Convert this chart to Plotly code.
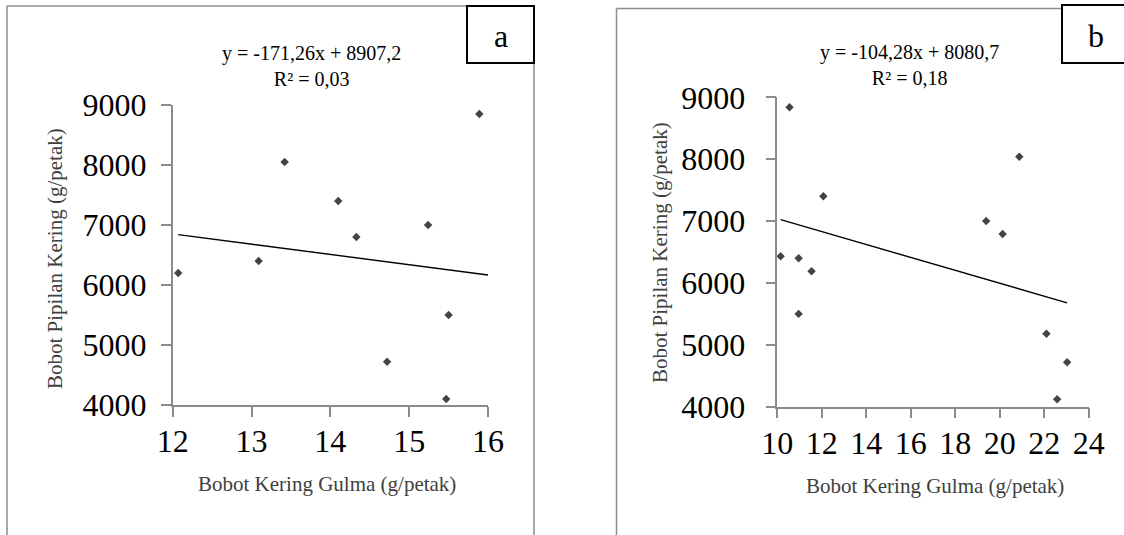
import plotly.graph_objects as go

W, H = 1124, 535

# ---- data ----
a_weed = [12.07, 13.09, 13.42, 14.10, 14.33, 15.24, 14.72, 15.50, 15.47, 15.89]
a_yield = [6200, 6400, 8050, 7400, 6800, 7000, 4720, 5500, 4100, 8850]
a_slope, a_intercept = -171.26, 8907.2
a_trend_x = [12.07, 16.0]
a_eq = "y = -171,26x + 8907,2<br>R² = 0,03"

b_weed = [10.15, 10.55, 10.96, 10.96, 11.54, 12.07, 19.39, 20.13, 20.88, 22.10, 22.58, 23.03]
b_yield = [6430, 8840, 6400, 5500, 6190, 7400, 7000, 6790, 8040, 5180, 4120, 4720]
b_slope, b_intercept = -104.28, 8080.7
b_trend_x = [10.15, 23.03]
b_eq = "y = -104,28x + 8080,7<br>R² = 0,18"

y_ticks = [4000, 5000, 6000, 7000, 8000, 9000]
a_x_ticks = [12, 13, 14, 15, 16]
b_x_ticks = [10, 12, 14, 16, 18, 20, 22, 24]
x_title = "Bobot Kering Gulma (g/petak)"
y_title = "Bobot Pipilan Kering (g/petak)"
panel_labels = ["a", "b"]


def px(x):
    return x / W


def py(y):
    return 1 - y / H


FONT = "Liberation Serif"
AX_COL = "#8a8a8a"
MK_COL = "#444444"

fig = go.Figure()

fig.add_trace(go.Scatter(x=a_weed, y=a_yield, mode="markers", xaxis="x", yaxis="y",
                         marker=dict(symbol="diamond", size=6.5, color=MK_COL),
                         cliponaxis=False, showlegend=False))
fig.add_trace(go.Scatter(x=a_trend_x, y=[a_slope * v + a_intercept for v in a_trend_x],
                         mode="lines", xaxis="x", yaxis="y",
                         line=dict(color="black", width=1.4), showlegend=False))
fig.add_trace(go.Scatter(x=b_weed, y=b_yield, mode="markers", xaxis="x2", yaxis="y2",
                         marker=dict(symbol="diamond", size=6.5, color=MK_COL),
                         cliponaxis=False, showlegend=False))
fig.add_trace(go.Scatter(x=b_trend_x, y=[b_slope * v + b_intercept for v in b_trend_x],
                         mode="lines", xaxis="x2", yaxis="y2",
                         line=dict(color="black", width=1.4), showlegend=False))

common_ax = dict(showgrid=False, zeroline=False, showline=True, linecolor=AX_COL,
                 linewidth=1.5, ticks="outside", ticklen=10, tickcolor=AX_COL,
                 tickwidth=1.5, tickfont=dict(family=FONT, size=32, color="black"),
                 automargin=False)

fig.update_layout(
    template="none",
    width=W, height=H, margin=dict(l=0, r=0, t=0, b=0, pad=0, autoexpand=False),
    paper_bgcolor="white", plot_bgcolor="white", showlegend=False,
    xaxis=dict(domain=[px(172.7), px(488.0)], range=[12, 16], tickvals=a_x_ticks,
               anchor="y", ticklabelstandoff=-3, **common_ax),
    yaxis=dict(domain=[py(405), py(105)], range=[4000, 9000], tickvals=y_ticks,
               anchor="x", ticklabelstandoff=8, **common_ax),
    xaxis2=dict(domain=[px(777.3), px(1088.7)], range=[10, 24], tickvals=b_x_ticks,
                anchor="y2", ticklabelstandoff=-3, **common_ax),
    yaxis2=dict(domain=[py(406.7), py(97.3)], range=[4000, 9000], tickvals=y_ticks,
                anchor="x2", ticklabelstandoff=14, **common_ax),
)

ann = []
title_font = dict(family=FONT, size=21, color="#404040")
eq_font = dict(family=FONT, size=20, color="black")
# axis titles
ann.append(dict(text=x_title, x=px(327), y=py(484), xref="paper", yref="paper",
                showarrow=False, font=title_font, xanchor="center", yanchor="middle"))
ann.append(dict(text=y_title, x=px(55), y=py(259), xref="paper", yref="paper",
                showarrow=False, font=title_font, textangle=-90,
                xanchor="center", yanchor="middle"))
ann.append(dict(text=x_title, x=px(935), y=py(486), xref="paper", yref="paper",
                showarrow=False, font=title_font, xanchor="center", yanchor="middle"))
ann.append(dict(text=y_title, x=px(660), y=py(253), xref="paper", yref="paper",
                showarrow=False, font=title_font, textangle=-90,
                xanchor="center", yanchor="middle"))
# equations
ann.append(dict(text=a_eq, x=px(311), y=py(66), xref="paper", yref="paper",
                showarrow=False, font=eq_font, xanchor="center", yanchor="middle"))
ann.append(dict(text=b_eq, x=px(909), y=py(65), xref="paper", yref="paper",
                showarrow=False, font=eq_font, xanchor="center", yanchor="middle"))
# panel letters
ann.append(dict(text=panel_labels[0], x=px(501), y=py(36), xref="paper", yref="paper",
                showarrow=False, font=dict(family=FONT, size=32, color="black"),
                xanchor="center", yanchor="middle"))
ann.append(dict(text=panel_labels[1], x=px(1096), y=py(36), xref="paper", yref="paper",
                showarrow=False, font=dict(family=FONT, size=32, color="black"),
                xanchor="center", yanchor="middle"))
fig.update_layout(annotations=ann)

shapes = []
frame_line = dict(color="#8c8c8c", width=1.5)
# panel a outer frame
shapes.append(dict(type="line", xref="paper", yref="paper", x0=px(7), x1=px(7),
                   y0=py(6), y1=py(600), line=frame_line))
shapes.append(dict(type="line", xref="paper", yref="paper", x0=px(7), x1=px(534),
                   y0=py(6), y1=py(6), line=frame_line))
shapes.append(dict(type="line", xref="paper", yref="paper", x0=px(534), x1=px(534),
                   y0=py(6), y1=py(600), line=frame_line))
# panel b outer frame
shapes.append(dict(type="line", xref="paper", yref="paper", x0=px(616.5), x1=px(616.5),
                   y0=py(8.5), y1=py(600), line=frame_line))
shapes.append(dict(type="line", xref="paper", yref="paper", x0=px(616.5), x1=px(1200),
                   y0=py(8.5), y1=py(8.5), line=frame_line))
# letter boxes
shapes.append(dict(type="rect", xref="paper", yref="paper", x0=px(467), x1=px(534),
                   y0=py(63), y1=py(6), line=dict(color="black", width=2),
                   fillcolor="white"))
shapes.append(dict(type="rect", xref="paper", yref="paper", x0=px(1062), x1=px(1140),
                   y0=py(63), y1=py(5), line=dict(color="black", width=2),
                   fillcolor="white"))
fig.update_layout(shapes=shapes)

fig.write_html("out.html",
               config={"displayModeBar": False},
               post_script="document.body.style.margin='0px';"
                           "document.body.style.overflow='hidden';")
